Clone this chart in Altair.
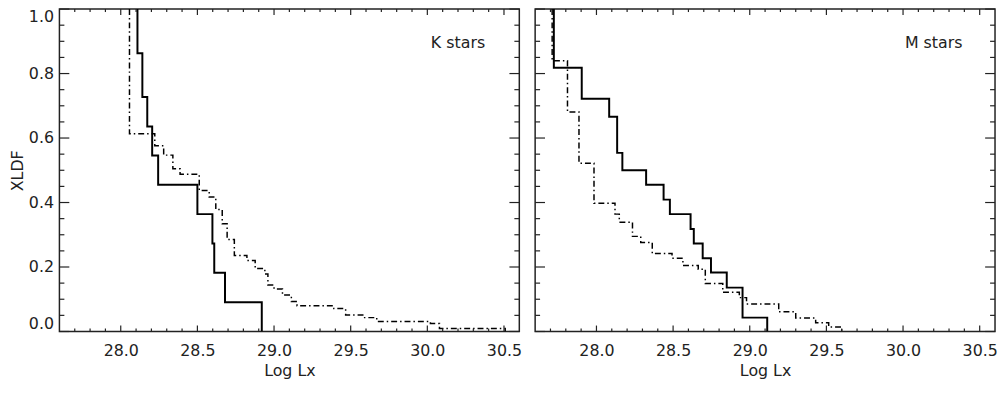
import altair as alt
import pandas as pd

# ---- data (Kaplan-Meier style step curves) ----
# K stars, solid curve
K_SOLID_LX = [28.109, 28.109, 28.141, 28.173, 28.205, 28.244, 28.500, 28.598, 28.610, 28.680, 28.920]
K_SOLID_F = [1.000, 0.863, 0.727, 0.636, 0.546, 0.455, 0.364, 0.273, 0.182, 0.091, 0.000]
# K stars, dash-dot curve
K_DASH_LX = [28.057, 28.057, 28.222, 28.280, 28.340, 28.387, 28.512, 28.577, 28.620, 28.662,
             28.694, 28.741, 28.823, 28.877, 28.940, 28.960, 29.000, 29.055, 29.113, 29.150,
             29.390, 29.467, 29.585, 29.670, 30.020, 30.079, 30.508]
K_DASH_F = [1.000, 0.613, 0.576, 0.547, 0.505, 0.488, 0.437, 0.417, 0.378, 0.334,
            0.285, 0.236, 0.220, 0.195, 0.178, 0.144, 0.132, 0.113, 0.093, 0.080,
            0.071, 0.051, 0.043, 0.031, 0.025, 0.009, 0.000]
# M stars, solid curve
M_SOLID_LX = [27.722, 27.722, 27.904, 28.083, 28.135, 28.169, 28.324, 28.438, 28.479, 28.614,
              28.635, 28.693, 28.747, 28.850, 28.953, 29.114]
M_SOLID_F = [1.000, 0.818, 0.722, 0.666, 0.554, 0.500, 0.455, 0.409, 0.364, 0.318,
             0.273, 0.227, 0.183, 0.136, 0.043, 0.000]
# M stars, dash-dot curve
M_DASH_LX = [27.711, 27.711, 27.811, 27.886, 27.984, 28.121, 28.149, 28.235, 28.289, 28.364,
             28.493, 28.564, 28.664, 28.710, 28.824, 28.932, 28.979, 29.189, 29.300, 29.430,
             29.515, 29.600]
M_DASH_F = [1.000, 0.840, 0.681, 0.522, 0.398, 0.364, 0.339, 0.295, 0.276, 0.242,
            0.227, 0.205, 0.193, 0.149, 0.122, 0.105, 0.085, 0.061, 0.042, 0.027,
            0.014, 0.000]

PANEL_LABELS = ["K stars", "M stars"]
LABEL_POS = [30.2, 0.895]

X_DOMAIN = [27.6, 30.6]
Y_DOMAIN = [0.0, 1.0]
X_MAJOR = [28.0, 28.5, 29.0, 29.5, 30.0, 30.5]
X_MINOR = [27.7, 27.8, 27.9, 28.1, 28.2, 28.3, 28.4, 28.6, 28.7, 28.8, 28.9,
           29.1, 29.2, 29.3, 29.4, 29.6, 29.7, 29.8, 29.9, 30.1, 30.2, 30.3, 30.4]
Y_MAJOR = [0.0, 0.2, 0.4, 0.6, 0.8, 1.0]
Y_MINOR = [0.05, 0.1, 0.15, 0.25, 0.3, 0.35, 0.45, 0.5, 0.55, 0.65, 0.7, 0.75, 0.85, 0.9, 0.95]

W = 465
H = 326
INK = "#222222"
FONT = "DejaVu Sans"

xs = alt.Scale(domain=X_DOMAIN, nice=False, zero=False)
ys = alt.Scale(domain=Y_DOMAIN, nice=False, zero=False)

X_AXIS = alt.Axis(title="Log Lx", values=X_MAJOR, format=".1f", ticks=False,
                  tickSize=0, domain=False, grid=False, labelPadding=11,
                  titlePadding=5)
Y_AXIS = alt.Axis(
    title="XLDF", values=Y_MAJOR, format=".1f", ticks=False,
    tickSize=0, domain=False, grid=False, labelPadding=6, titlePadding=3,
    labelBaseline={
        "condition": [
            {"test": "datum.value >= 1", "value": "top"},
            {"test": "datum.value <= 0", "value": "bottom"},
        ],
        "value": "middle",
    },
)


def enc_x(field):
    return alt.X(field, scale=xs, axis=X_AXIS)


def enc_y(field, show):
    if show:
        return alt.Y(field, scale=ys, axis=Y_AXIS)
    return alt.Y(field, scale=ys, axis=None)


def curve(lx, f, dash, width, show_y):
    df = pd.DataFrame({"lx": lx, "f": f, "i": list(range(len(lx)))})
    return alt.Chart(df).mark_line(
        interpolate="step-after", color="#000000", strokeDash=dash,
        strokeWidth=width, clip=True
    ).encode(
        x=enc_x("lx:Q"),
        y=enc_y("f:Q", show_y),
        order=alt.Order("i:Q"),
    )


def yticks(vals, x1, x2, show_y):
    return alt.Chart(pd.DataFrame({"f": vals})).mark_rule(
        color=INK, strokeWidth=1.2
    ).encode(y=enc_y("f:Q", show_y), x=alt.value(x1), x2=alt.value(x2))


def xticks(vals, y1, y2):
    return alt.Chart(pd.DataFrame({"lx": vals})).mark_rule(
        color=INK, strokeWidth=1.2
    ).encode(x=enc_x("lx:Q"), y=alt.value(y1), y2=alt.value(y2))


def panel(slx, sf, dlx, df_, label, show_y):
    lbl = alt.Chart(pd.DataFrame({"lx": [LABEL_POS[0]], "f": [LABEL_POS[1]], "t": [label]})).mark_text(
        font=FONT, fontSize=16, color=INK, align="center", baseline="middle"
    ).encode(x=enc_x("lx:Q"), y=enc_y("f:Q", show_y), text="t:N")
    layers = [
        curve(slx, sf, [1, 0], 2.0, show_y),
        curve(dlx, df_, [6, 3, 1.5, 3], 1.5, show_y),
        yticks(Y_MAJOR, 0, 10, show_y), yticks(Y_MINOR, 0, 5, show_y),
        yticks(Y_MAJOR, W, W - 10, show_y), yticks(Y_MINOR, W, W - 5, show_y),
        xticks(X_MAJOR, H, H - 6), xticks(X_MINOR, H, H - 3),
        xticks(X_MAJOR, 0, 6), xticks(X_MINOR, 0, 3),
        lbl,
    ]
    return alt.layer(*layers).properties(width=W, height=H)


left = panel(K_SOLID_LX, K_SOLID_F, K_DASH_LX, K_DASH_F, PANEL_LABELS[0], True)
right = panel(M_SOLID_LX, M_SOLID_F, M_DASH_LX, M_DASH_F, PANEL_LABELS[1], False)

chart = alt.hconcat(left, right, spacing=10).properties(
    padding={"top": -3, "left": 0, "right": -2, "bottom": 0}, background="white"
).configure_view(
    stroke=INK, strokeWidth=1.5
).configure_axis(
    labelFont=FONT, labelFontSize=16, labelColor=INK,
    titleFont=FONT, titleFontSize=16, titleColor=INK, titleFontWeight="normal",
)

chart.save("out.html", embed_options={"renderer": "svg", "actions": False})
